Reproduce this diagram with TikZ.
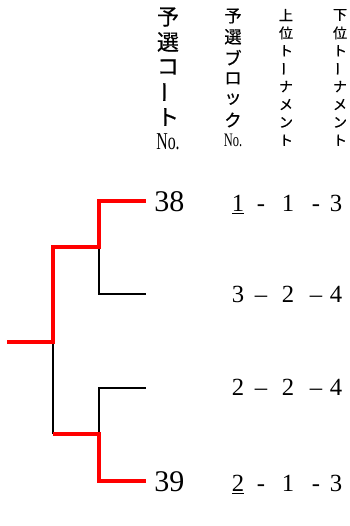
\documentclass[tikz,border=0pt]{standalone}
\usepackage{fontspec}
\setmainfont{Liberation Serif}
\newfontfamily\jpfont[FakeBold=0.5]{Noto Sans CJK JP}
\usetikzlibrary{positioning}

\newcommand\vbar{\rotatebox[origin=c]{90}{ー}}
\newcommand\nosign{{\rmfamily\scalebox{0.72}[1.1]{No.}}}

\tikzset{
    win/.style={draw=red, line width=3pt},
    lose/.style={draw=black, line width=1pt},
    hd/.style={inner sep=0pt, font={\jpfont\fontsize{#1}{#1}\selectfont}},
    num/.style={inner sep=0pt, anchor=base, font=\fontsize{18.5}{18.5}\selectfont},
    court/.style={inner sep=0pt, anchor=base west, font=\fontsize{22.5}{22.5}\selectfont}
}

\begin{document}
\begin{tikzpicture}[x=0.75pt,y=0.75pt,yscale=-1,xscale=1]
    \useasboundingbox (0,0) rectangle (350,526);

    % bracket points
    \coordinate (root) at (7,342);
    \coordinate (f) at (53,342);
    \coordinate (q1) at (99,247);
    \coordinate (q2) at (99,434);
    \coordinate (la) at (146,201);
    \coordinate (lb) at (146,294);
    \coordinate (lc) at (146,388);
    \coordinate (ld) at (146,481);

    \draw [lose] (q1) |- (lb);
    \draw [lose] (f) -- (f |- q2);
    \draw [lose] (q2) |- (lc);
    \draw [win] (root) -- (f) |- (q1) |- (la);
    \draw [win] (f |- q2) -- (q2) |- (ld);

    % header columns
    \foreach \t [count=\i] in {予,選,コ,\vbar,ト,\nosign}
        \node [hd=16.5] (ca\i) at (168,17+25*\i-25) {\t};
    \foreach \t [count=\i] in {予,選,ブ,ロ,ッ,ク,\nosign}
        \node [hd=13] (cb\i) at (233,16+20.8*\i-20.8) {\t};
    \foreach \t [count=\i] in {上,位,ト,\vbar,ナ,メ,ン,ト}
        \node [hd=10.5] (cc\i) at (286,15+17.9*\i-17.9) {\t};
    \foreach \t [count=\i] in {下,位,ト,\vbar,ナ,メ,ン,ト}
        \node [hd=10.5] (cd\i) at (340,15+17.9*\i-17.9) {\t};

    % court numbers
    \node [court] (n38) at (154,211) {38};
    \node [court] (n39) at (154,491) {39};

    % block - upper - lower
    \foreach \r/\y/\a/\s/\b/\c in {1/211/\underline{1}/-/1/3, 2/302/3/--/2/4, 3/395/2/--/2/4, 4/491/\underline{2}/-/1/3}
    {
        \node [num] (r\r a) at (238,\y) {\a};
        \node [num] (r\r s) at (261,\y) {\s};
        \node [num] (r\r b) at (288,\y) {\b};
        \node [num] (r\r t) at (316,\y) {\s};
        \node [num] (r\r c) at (336,\y) {\c};
    }
\end{tikzpicture}
\end{document}
